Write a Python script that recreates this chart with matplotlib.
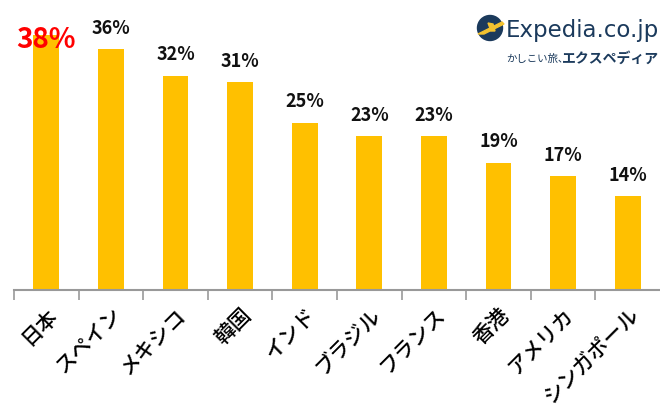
# 海外旅行で行きたい国ランキング (Expedia)
import matplotlib.pyplot as plt
from matplotlib.patches import Circle, Polygon

plt.rcParams['font.family'] = ['Noto Sans CJK JP', 'DejaVu Sans']

countries = ['日本', 'スペイン', 'メキシコ', '韓国', 'インド',
             'ブラジル', 'フランス', '香港', 'アメリカ', 'シンガポール']
values = [38, 36, 32, 31, 25, 23, 23, 19, 17, 14]

fig = plt.figure(figsize=(6.6, 4.15), dpi=100)
ax = fig.add_axes([14 / 660, 1 - 290 / 415, 1 - 14 / 660, 290 / 415])

x = range(len(countries))
ax.bar(x, values, width=0.4, color='#FFC000')
ax.set_xlim(-0.5, len(countries) - 0.5)
ax.set_ylim(0, 43.3)

# 値ラベル
for i, v in enumerate(values):
    if i == 0:
        ax.annotate(f'{v}%', (i, v), xytext=(0, -3), textcoords='offset points',
                    ha='center', va='center', fontsize=20, fontweight='bold',
                    color='#FF0000')
    else:
        ax.annotate(f'{v}%', (i, v), xytext=(0, 15), textcoords='offset points',
                    ha='center', va='center', fontsize=13, fontweight='bold',
                    color='#111111')

# 軸
for s in ['top', 'right', 'left']:
    ax.spines[s].set_visible(False)
ax.spines['bottom'].set_color('#999999')
ax.spines['bottom'].set_linewidth(1.5)
ax.set_yticks([])
ax.set_xticks([i - 0.5 for i in x], minor=False)
ax.set_xticklabels([])
ax.tick_params(axis='x', length=7, color='#999999', width=1.2)
ax.set_xticks(list(x), minor=True)
ax.set_xticklabels(countries, minor=True, rotation=45, ha='right',
                   rotation_mode='anchor', fontsize=15, fontweight='medium')
ax.tick_params(axis='x', which='minor', length=0, pad=10)

# ロゴ
lax = fig.add_axes([0, 0, 1, 1], facecolor='none')
lax.set_xlim(0, 660)
lax.set_ylim(415, 0)
lax.axis('off')
lax.add_patch(Circle((490, 28), 12.5, color='#1B3A5C'))
lax.add_patch(Polygon([(478, 34), (502, 22), (504, 24), (484, 34)],
                      color='#F2C230'))
lax.add_patch(Polygon([(488, 23), (493, 24), (495, 31), (491, 31)],
                      color='#F2C230'))
lax.text(506, 31, 'Expedia.co.jp', fontsize=16.5, color='#1B3A5C',
         va='center', ha='left', family='DejaVu Sans')
lax.text(506, 59, 'かしこい旅、', fontsize=7.5, color='#1B3A5C',
         va='center', ha='left')
lax.text(562, 59, 'エクスペディア', fontsize=10, color='#1B3A5C',
         fontweight='bold', va='center', ha='left')

fig.savefig('out.png', dpi=100)
